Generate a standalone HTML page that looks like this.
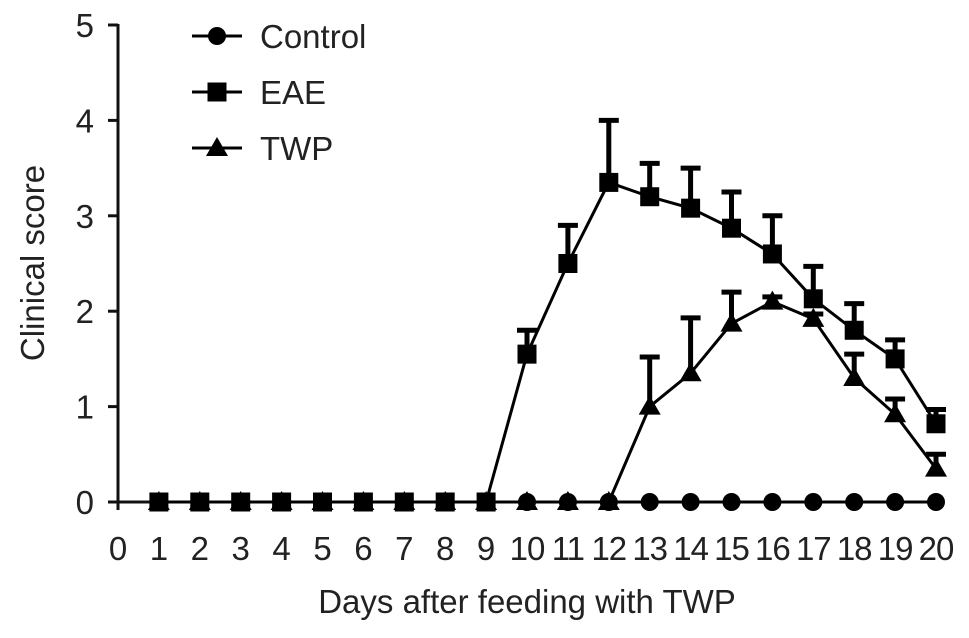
<!DOCTYPE html>
<html><head><meta charset="utf-8"><style>
body{margin:0;background:#fff}
svg text{font-family:"Liberation Sans",Arial,sans-serif;fill:#222}
</style></head><body>
<svg id="c" width="969" height="633" xmlns="http://www.w3.org/2000/svg"></svg>
<script>
const days=[1,2,3,4,5,6,7,8,9,10,11,12,13,14,15,16,17,18,19,20];
const control=[0,0,0,0,0,0,0,0,0,0,0,0,0,0,0,0,0,0,0,0];
const eae=[0,0,0,0,0,0,0,0,0,1.55,2.5,3.35,3.2,3.08,2.87,2.6,2.13,1.8,1.5,0.82];
const eaeErr=[0,0,0,0,0,0,0,0,0,0.25,0.4,0.65,0.35,0.42,0.38,0.4,0.34,0.28,0.2,0.15];
const twpDays=[1,2,3,4,5,6,7,8,9,10,11,12,13,14,15,16,17,18,19,20];
const twp=[0,0,0,0,0,0,0,0,0,0,0,0,1.0,1.35,1.87,2.1,1.92,1.3,0.92,0.35];
const twpErr=[0,0,0,0,0,0,0,0,0,0,0,0,0.52,0.58,0.33,0.05,0.05,0.25,0.16,0.15];
const xTicks=[0,1,2,3,4,5,6,7,8,9,10,11,12,13,14,15,16,17,18,19,20];
const yTicks=[0,1,2,3,4,5];
const svg=document.getElementById('c');const NS='http://www.w3.org/2000/svg';
const X=d=>118+d*40.9, Y=v=>502-v*95.4;
function mk(t,a,p){const e=document.createElementNS(NS,t);for(const k in a)e.setAttribute(k,a[k]);(p||svg).appendChild(e);return e;}
let g=mk('g',{});


mk('line',{x1:118,y1:Y(5)-1,x2:118,y2:Y(0)+8,stroke:'#111','stroke-width':3},g);
yTicks.forEach(v=>{mk('line',{x1:108,y1:Y(v),x2:118,y2:Y(v),stroke:'#111','stroke-width':3},g);
const t=mk('text',{x:94,y:Y(v)+12,'font-size':33,'text-anchor':'end'},g);t.textContent=v;

});
g=mk('g',{});


mk('line',{x1:108,y1:Y(0),x2:X(20),y2:Y(0),stroke:'#111','stroke-width':3},g);
xTicks.forEach(d=>{mk('line',{x1:X(d),y1:Y(0),x2:X(d),y2:Y(0)+8,stroke:'#111','stroke-width':3},g);
const t=mk('text',{x:X(d),y:560,'font-size':33,'text-anchor':'middle','letter-spacing':d>=10?-1:0},g);t.textContent=d;

});
let t=mk('text',{x:527,y:613,'font-size':33,'text-anchor':'middle'});t.textContent='Days after feeding with TWP';


t=mk('text',{x:0,y:0,'font-size':33,'text-anchor':'middle',transform:'translate(44,263) rotate(-90)'});t.textContent='Clinical score';


function marker(type,x,y,p){
 if(type==='c')mk('circle',{cx:x,cy:y,r:9,fill:'#000'},p);
 else if(type==='s')mk('rect',{x:x-9.5,y:y-9.5,width:19,height:19,fill:'#000'},p);
 else mk('polygon',{points:`${x},${y-11} ${x+11},${y+8} ${x-11},${y+8}`,fill:'#000'},p);}
function series(name,xs,vs,errs,type){
 const p=mk('g',{});
 
 
 mk('polyline',{points:xs.map((d,i)=>X(d)+','+Y(vs[i])).join(' '),fill:'none',stroke:'#000','stroke-width':3},p);
 xs.forEach((d,i)=>{if(errs&&errs[i]>0.02){mk('line',{x1:X(d),y1:Y(vs[i]),x2:X(d),y2:Y(vs[i]+errs[i]),stroke:'#000','stroke-width':5},p);
  mk('line',{x1:X(d)-10,y1:Y(vs[i]+errs[i]),x2:X(d)+10,y2:Y(vs[i]+errs[i]),stroke:'#000','stroke-width':5},p);}
  marker(type,X(d),Y(vs[i]),p);});}
series('twp',twpDays,twp,twpErr,'t');
series('eae',days,eae,eaeErr,'s');
series('control',days.slice(9),control.slice(9),null,'c');
[['Control','c',36],['EAE','s',92],['TWP','t',148]].forEach(([n,ty,y])=>{
 const p=mk('g',{});
 
 
 mk('line',{x1:192,y1:y,x2:242,y2:y,stroke:'#000','stroke-width':3},p);
 marker(ty,217,y,p);
 const tt=mk('text',{x:260,y:y+12,'font-size':33},p);tt.textContent=n;});
</script>
</body></html>
